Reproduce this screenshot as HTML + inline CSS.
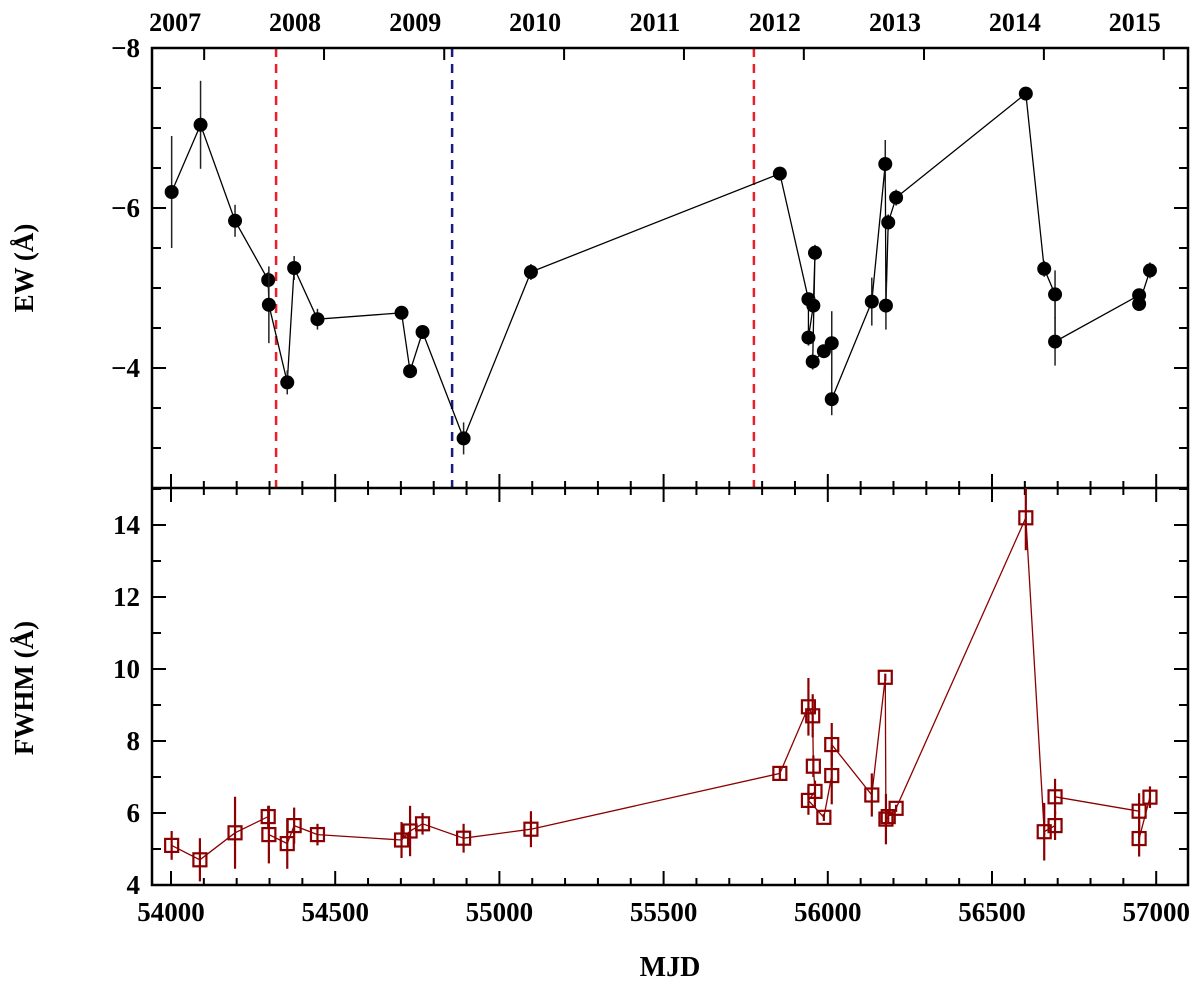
<!DOCTYPE html>
<html><head><meta charset="utf-8"><style>
html,body{margin:0;padding:0;background:#fff;}
svg{display:block;font-family:"Liberation Serif",serif;font-weight:bold;}
</style></head><body>
<svg id="chart" width="1200" height="985" viewBox="0 0 1200 985">
<g id="grid"></g>
<text transform="translate(33,268) rotate(-90)" text-anchor="middle" font-size="27">EW (Å)</text>
<text transform="translate(33,688) rotate(-90)" text-anchor="middle" font-size="27">FWHM (Å)</text>
<text x="670" y="976" text-anchor="middle" font-size="28">MJD</text>
</svg>
<script>
const ewMjd=[54002,54090,54195,54296,54298,54354,54375,54446,54702,54728,54766,54891,55096,55854,55941,55941,55956,55961,55954,55988,56012,56012,56134,56175,56177,56184,56208,56603,56659,56692,56692,56948,56948,56981];
const ewVal=[-6.20,-7.04,-5.84,-5.10,-4.79,-3.82,-5.25,-4.61,-4.69,-3.96,-4.45,-3.12,-5.20,-6.43,-4.86,-4.38,-4.78,-5.44,-4.08,-4.21,-4.31,-3.61,-4.83,-6.55,-4.78,-5.82,-6.13,-7.43,-5.24,-4.92,-4.33,-4.91,-4.80,-5.22];
const ewErr=[0.7,0.55,0.2,0.1,0.48,0.15,0.15,0.13,0.05,0.05,0.05,0.2,0.1,0.06,0.05,0.1,0.1,0.1,0.1,0.05,0.4,0.2,0.3,0.3,0.3,0.1,0.1,0.05,0.1,0.3,0.3,0.05,0.05,0.1];
const fwMjd=[54002,54088,54195,54296,54298,54354,54375,54446,54702,54728,54766,54891,55096,55854,55941,55954,55956,55961,55941,55988,56012,56012,56134,56175,56177,56184,56208,56603,56659,56692,56692,56948,56948,56981];
const fwVal=[5.1,4.7,5.45,5.9,5.4,5.15,5.65,5.4,5.25,5.5,5.7,5.3,5.55,7.1,8.95,8.7,7.3,6.6,6.35,5.88,7.04,7.9,6.5,9.77,5.83,5.9,6.13,14.2,5.48,5.65,6.45,6.05,5.29,6.44];
const fwErr=[0.4,0.6,1.0,0.3,0.8,0.7,0.5,0.3,0.5,0.7,0.3,0.4,0.5,0.2,0.8,0.6,0.3,0.3,0.4,0.1,0.8,0.6,0.6,0.1,0.7,0.2,0.1,0.9,0.8,0.4,0.5,0.5,0.5,0.3];
const vLines=[54320,54856,55775];
const vColors=['#e8202a','#1a1a80','#e8202a'];
const years=['2007','2008','2009','2010','2011','2012','2013','2014','2015'];
const yearMjd=[54101,54466,54832,55197,55562,55927,56293,56658,57023];
const xTicks=[54000,54500,55000,55500,56000,56500,57000];
const ewTicks=[-8,-6,-4];
const fwTicks=[4,6,8,10,12,14];

const L=152,R=1188,T=48,M=488,B=885;
const X=m=>171+(m-54000)*0.3284;
const YE=v=>48+(v+8)*80;
const YF=v=>885-(v-4)*36;
const NS='http://www.w3.org/2000/svg';
const svg=document.getElementById('chart');
function mk(t,a,p){const e=document.createElementNS(NS,t);for(const k in a)e.setAttribute(k,a[k]);(p||svg).appendChild(e);return e;}

vLines.forEach((m,i)=>{
 const e=mk('line',{x1:X(m),x2:X(m),y1:T,y2:M,stroke:vColors[i],'stroke-width':2.5,'stroke-dasharray':'9,7'});
 
 
});
for(let m=53900;m<=57100;m+=100){
 const major=m%500===0, x=X(m);
 if(x<L||x>R) continue;
 const len=major?14:7;
 mk('line',{x1:x,x2:x,y1:B,y2:B-len,stroke:'#000','stroke-width':2});
 mk('line',{x1:x,x2:x,y1:M,y2:M-len,stroke:'#000','stroke-width':2});
 mk('line',{x1:x,x2:x,y1:M,y2:M+len,stroke:'#000','stroke-width':2});
}
xTicks.forEach(m=>{
 const t=mk('text',{x:X(m),y:921,'text-anchor':'middle','font-size':27});t.textContent=m;
 
 
});
yearMjd.forEach((m,i)=>{
 const x=X(m);
 mk('line',{x1:x,x2:x,y1:T,y2:T+12,stroke:'#000','stroke-width':2});
 const t=mk('text',{x:x-29,y:31,'text-anchor':'middle','font-size':26});t.textContent=years[i];
 
 
});
for(let v=-8;v<=-2.5;v+=0.5){
 const y=YE(v), major=Number.isInteger(v)&&v%2===0, len=major?14:9;
 mk('line',{x1:L,x2:L+len,y1:y,y2:y,stroke:'#000','stroke-width':2});
 mk('line',{x1:R,x2:R-len,y1:y,y2:y,stroke:'#000','stroke-width':2});
}
ewTicks.forEach(v=>{
 const t=mk('text',{x:140,y:YE(v)+9,'text-anchor':'end','font-size':27});t.textContent='\u2212'+Math.abs(v);
 
 
});
for(let v=4;v<=15;v+=1){
 const y=YF(v), major=v%2===0, len=major?14:9;
 mk('line',{x1:L,x2:L+len,y1:y,y2:y,stroke:'#000','stroke-width':2});
 mk('line',{x1:R,x2:R-len,y1:y,y2:y,stroke:'#000','stroke-width':2});
}
fwTicks.forEach(v=>{
 const t=mk('text',{x:140,y:YF(v)+9,'text-anchor':'end','font-size':27});t.textContent=v;
 
 
});
mk('rect',{x:L,y:T,width:R-L,height:B-T,fill:'none',stroke:'#000','stroke-width':2.5});
mk('line',{x1:L,x2:R,y1:M,y2:M,stroke:'#000','stroke-width':2.5});

const ewPts=ewMjd.map((m,i)=>X(m)+','+YE(ewVal[i])).join(' ');
const ewLine=mk('polyline',{points:ewPts,fill:'none',stroke:'#000','stroke-width':1.3});


ewMjd.forEach((m,i)=>{
 const x=X(m),y=YE(ewVal[i]);
 mk('line',{x1:x,x2:x,y1:YE(ewVal[i]-ewErr[i]),y2:YE(ewVal[i]+ewErr[i]),stroke:'#222','stroke-width':1.5});
 const c=mk('circle',{cx:x,cy:y,r:7,fill:'#000'});
 
 
});
const fwPts=fwMjd.map((m,i)=>X(m)+','+YF(fwVal[i])).join(' ');
const fwLine=mk('polyline',{points:fwPts,fill:'none',stroke:'#8b0000','stroke-width':1.3});


fwMjd.forEach((m,i)=>{
 const x=X(m),y=YF(fwVal[i]);
 mk('line',{x1:x,x2:x,y1:Math.max(M,YF(fwVal[i]+fwErr[i])),y2:YF(fwVal[i]-fwErr[i]),stroke:'#8b0000','stroke-width':2.2});
 const s=mk('rect',{x:x-6.5,y:y-6.5,width:13,height:13,fill:'none',stroke:'#8b0000','stroke-width':2.2});
 
 
});
</script>
</body></html>
